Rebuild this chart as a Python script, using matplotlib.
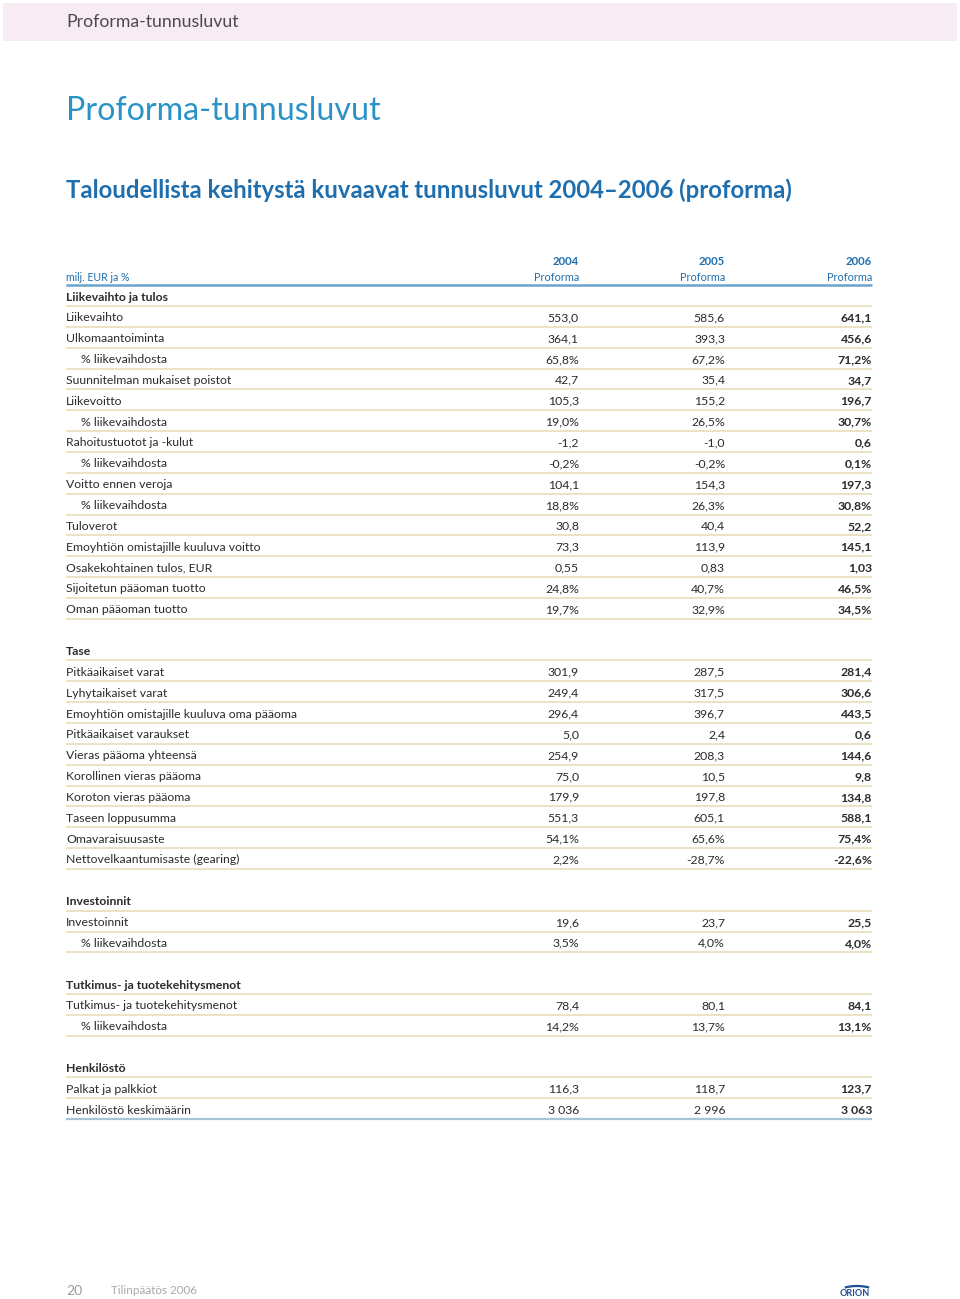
import matplotlib.pyplot as plt
from matplotlib.patches import Rectangle, Arc

plt.rcParams['font.family'] = ['Lato', 'DejaVu Sans']

years = ["2004", "2005", "2006"]
unit_label = "milj. EUR ja %"

# section titles and their rows; a leading "% " row is drawn indented
sec1_title = "Liikevaihto ja tulos"
sec1_labels = ["Liikevaihto", "Ulkomaantoiminta", "% liikevaihdosta",
               "Suunnitelman mukaiset poistot", "Liikevoitto", "% liikevaihdosta",
               "Rahoitustuotot ja -kulut", "% liikevaihdosta", "Voitto ennen veroja",
               "% liikevaihdosta", "Tuloverot", "Emoyhtiön omistajille kuuluva voitto",
               "Osakekohtainen tulos, EUR", "Sijoitetun pääoman tuotto",
               "Oman pääoman tuotto"]
sec1_2004 = ["553,0", "364,1", "65,8%", "42,7", "105,3", "19,0%", "-1,2", "-0,2%",
             "104,1", "18,8%", "30,8", "73,3", "0,55", "24,8%", "19,7%"]
sec1_2005 = ["585,6", "393,3", "67,2%", "35,4", "155,2", "26,5%", "-1,0", "-0,2%",
             "154,3", "26,3%", "40,4", "113,9", "0,83", "40,7%", "32,9%"]
sec1_2006 = ["641,1", "456,6", "71,2%", "34,7", "196,7", "30,7%", "0,6", "0,1%",
             "197,3", "30,8%", "52,2", "145,1", "1,03", "46,5%", "34,5%"]

sec2_title = "Tase"
sec2_labels = ["Pitkäaikaiset varat", "Lyhytaikaiset varat",
               "Emoyhtiön omistajille kuuluva oma pääoma", "Pitkäaikaiset varaukset",
               "Vieras pääoma yhteensä", "Korollinen vieras pääoma",
               "Koroton vieras pääoma", "Taseen loppusumma", "Omavaraisuusaste",
               "Nettovelkaantumisaste (gearing)"]
sec2_2004 = ["301,9", "249,4", "296,4", "5,0", "254,9", "75,0", "179,9", "551,3", "54,1%", "2,2%"]
sec2_2005 = ["287,5", "317,5", "396,7", "2,4", "208,3", "10,5", "197,8", "605,1", "65,6%", "-28,7%"]
sec2_2006 = ["281,4", "306,6", "443,5", "0,6", "144,6", "9,8", "134,8", "588,1", "75,4%", "-22,6%"]

sec3_title = "Investoinnit"
sec3_labels = ["Investoinnit", "% liikevaihdosta"]
sec3_2004 = ["19,6", "3,5%"]
sec3_2005 = ["23,7", "4,0%"]
sec3_2006 = ["25,5", "4,0%"]

sec4_title = "Tutkimus- ja tuotekehitysmenot"
sec4_labels = ["Tutkimus- ja tuotekehitysmenot", "% liikevaihdosta"]
sec4_2004 = ["78,4", "14,2%"]
sec4_2005 = ["80,1", "13,7%"]
sec4_2006 = ["84,1", "13,1%"]

sec5_title = "Henkilöstö"
sec5_labels = ["Palkat ja palkkiot", "Henkilöstö keskimäärin"]
sec5_2004 = ["116,3", "3 036"]
sec5_2005 = ["118,7", "2 996"]
sec5_2006 = ["123,7", "3 063"]

sections = [
    (sec1_title, sec1_labels, sec1_2004, sec1_2005, sec1_2006),
    (sec2_title, sec2_labels, sec2_2004, sec2_2005, sec2_2006),
    (sec3_title, sec3_labels, sec3_2004, sec3_2005, sec3_2006),
    (sec4_title, sec4_labels, sec4_2004, sec4_2005, sec4_2006),
    (sec5_title, sec5_labels, sec5_2004, sec5_2005, sec5_2006),
]

TEXT = "#2b2b2b"
BLUE = "#1f6fae"
LIGHTBLUE = "#2a93c6"
BEIGE = "#e9e0bb"

fig = plt.figure(figsize=(9.6, 12.99), dpi=100)
ax = fig.add_axes([0, 0, 1, 1])
ax.set_xlim(0, 960)
ax.set_ylim(1299, 0)
ax.axis("off")

# top band
ax.add_patch(Rectangle((3, 3), 954, 38, facecolor="#f8ecf4", edgecolor="none"))
ax.text(66, 22, "Proforma-tunnusluvut", fontsize=12.7, color="#4a4a4a", va="center")

ax.text(66, 111, "Proforma-tunnusluvut", fontsize=23.2, color=LIGHTBLUE, va="center")
ax.text(66, 190, "Taloudellista kehitystä kuvaavat tunnusluvut 2004\u20132006 (proforma)",
        fontsize=17.2, color=BLUE, weight="bold", va="center")

left, right = 66, 872
col_x = [579, 725, 872]

# column header
ax.text(left, 277, unit_label, fontsize=7.6, color=BLUE, va="center")
for x, yr in zip(col_x, years):
    ax.text(x, 261, yr, fontsize=8.2, color=BLUE, weight="bold", ha="right", va="center")
    ax.text(x, 277, "Proforma", fontsize=7.8, color=BLUE, ha="right", va="center")
ax.plot([left, right], [285, 285], color="#6aa3cc", lw=1.8, solid_capstyle="butt")

top, pitch = 297, 20.85
idx = 0
n_sec = len(sections)
for s, (title, labels, c1, c2, c3) in enumerate(sections):
    y = top + idx * pitch
    ax.text(left, y, title, fontsize=8.8, color=TEXT, weight="bold", va="center")
    ax.plot([left, right], [y + 9, y + 9], color=BEIGE, lw=1.3, solid_capstyle="butt")
    idx += 1
    for r, lab in enumerate(labels):
        y = top + idx * pitch
        x0 = left + 15 if lab.startswith("%") else left
        ax.text(x0, y, lab, fontsize=8.8, color=TEXT, va="center")
        for k, (x, v) in enumerate(zip(col_x, (c1[r], c2[r], c3[r]))):
            ax.text(x, y, v, fontsize=8.8, color=TEXT, ha="right", va="center",
                    weight="bold" if k == 2 else "normal")
        last = s == n_sec - 1 and r == len(labels) - 1
        ax.plot([left, right], [y + 9, y + 9], color="#a8c4d8" if last else BEIGE,
                lw=1.6 if last else 1.3, solid_capstyle="butt")
        idx += 1
    idx += 1

# footer
ax.text(66, 1291, "20", fontsize=10, color="#9a9a9a", va="center")
ax.text(111, 1291, "Tilinpäätös 2006", fontsize=8.4, color="#a8a8a8", va="center")
ax.text(855, 1294, "ORION", fontsize=6.5, color="#1f4f8f", weight="bold",
        ha="center", va="center")
# swoosh above the name, drawn on the upper side (y axis is inverted)
ax.add_patch(Arc((857, 1292), 36, 12, theta1=200, theta2=340, color="#1f4f8f", lw=1.6))

fig.savefig("out.png", dpi=100)
